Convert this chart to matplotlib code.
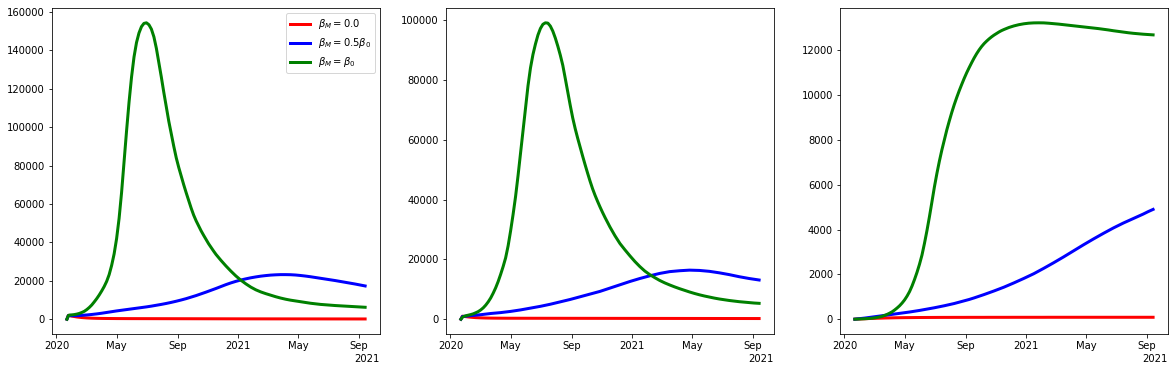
import numpy as np
import matplotlib
matplotlib.use("Agg")
import matplotlib.pyplot as plt
import matplotlib.dates as mdates

start_date = "2020-01-22"
# coarse sampling (days after start) for the slowly varying curves
days_c = [0, 3] + list(range(10, 601, 10))
# fine sampling for the sharply peaked curves
days_f = [0, 3] + list(range(5, 301, 5)) + list(range(310, 601, 10))

labels = [r"$\beta_M = 0.0$", r"$\beta_M = 0.5\beta_0$", r"$\beta_M = \beta_0$"]

# ---------------- Panel 1 ----------------
p1_red = [0, 2000,
          1600, 1150, 850, 650, 520, 440, 390, 360, 340, 320,
          310, 300, 290, 285, 280, 275, 270, 265, 260, 255,
          250, 245, 240, 235, 230, 225, 220, 215, 210, 205,
          200, 195, 190, 185, 180, 175, 172, 170, 167, 165,
          162, 160, 157, 155, 152, 150, 147, 145, 142, 140,
          137, 135, 132, 130, 127, 125, 122, 120, 117, 115]
p1_blue = [0, 1900,
           1800, 1850, 2000, 2200, 2450, 2750, 3100, 3500, 3900, 4300,
           4650, 5000, 5350, 5700, 6050, 6400, 6800, 7250, 7700, 8200,
           8750, 9350, 10000, 10700, 11500, 12300, 13200, 14100, 15050, 16000,
           17000, 18000, 18900, 19700, 20400, 21000, 21550, 22000, 22400, 22700,
           22950, 23100, 23200, 23200, 23150, 23000, 22750, 22450, 22100, 21700,
           21300, 20900, 20500, 20100, 19650, 19200, 18750, 18300, 17800, 17300]
p1_green = [0, 1900,
            2150, 2250, 2400, 2650, 3000, 3500, 4100, 5000, 6100, 7400,
            9000, 10700, 12600, 14700, 17000, 19700, 23200, 28000, 34000, 42000,
            52500, 66000, 82000, 98000, 113000, 126000, 136500, 144000, 149000, 152300,
            154000, 154300, 153300, 151000, 147000, 141000, 133500, 126000, 118000, 110500,
            103000, 96500, 90000, 84000, 79000, 74500, 70000, 65800, 61800, 57800,
            54200, 51200, 48600, 46000, 43700, 41500, 39300, 37400, 35500, 33700,
            30600, 27700, 25000, 22500, 20300, 18400, 16700, 15300, 14200, 13300,
            12500, 11700, 11000, 10400, 9900, 9500, 9100, 8700, 8300, 8000,
            7700, 7500, 7300, 7100, 6950, 6800, 6650, 6500, 6350, 6200]

# ---------------- Panel 2 ----------------
p2_red = [0, 1000,
          850, 650, 520, 440, 390, 360, 340, 330, 320, 315,
          312, 310, 308, 306, 304, 302, 300, 298, 296, 294,
          292, 290, 288, 286, 284, 282, 280, 278, 276, 274,
          272, 270, 268, 266, 264, 262, 260, 258, 256, 254,
          252, 250, 248, 246, 244, 242, 240, 238, 236, 234,
          232, 230, 228, 226, 224, 222, 220, 218, 216, 214]
p2_blue = [0, 900,
           1000, 1200, 1350, 1500, 1700, 1900, 2050, 2200, 2400, 2600,
           2850, 3100, 3400, 3700, 4000, 4300, 4650, 5000, 5400, 5800,
           6200, 6600, 7050, 7500, 7950, 8400, 8850, 9300, 9850, 10400,
           10950, 11500, 12050, 12600, 13100, 13600, 14050, 14500, 14900, 15300,
           15600, 15900, 16050, 16200, 16300, 16400, 16350, 16300, 16150, 16000,
           15750, 15500, 15200, 14900, 14550, 14200, 13900, 13600, 13350, 13100]
p2_green = [0, 600,
            850, 1150, 1350, 1550, 1800, 2150, 2550, 3100, 3800, 4700,
            5800, 7100, 8700, 10500, 12600, 15000, 17600, 20500, 24500, 29500,
            35000, 41000, 48000, 55500, 63000, 70500, 78000, 84000, 88500, 92000,
            95000, 97200, 98600, 99100, 99000, 98000, 96300, 94000, 91300, 88300,
            84900, 80500, 76000, 71500, 67300, 63700, 60500, 57500, 54500, 51600,
            48800, 46100, 43600, 41400, 39400, 37500, 35700, 34000, 32400, 30800,
            27900, 25300, 23200, 21200, 19300, 17600, 16100, 14900, 13900, 12950,
            12150, 11450, 10800, 10200, 9650, 9100, 8600, 8150, 7750, 7400,
            7050, 6750, 6500, 6250, 6050, 5850, 5700, 5550, 5400, 5300]

# ---------------- Panel 3 ----------------
p3_red = [0, 5,
          10, 20, 30, 38, 45, 52, 57, 62, 66, 69,
          71, 73, 75, 76, 77, 78, 79, 80, 80, 81,
          81, 81, 82, 82, 82, 82, 83, 83, 83, 83,
          83, 84, 84, 84, 84, 84, 84, 84, 85, 85,
          85, 85, 85, 85, 85, 85, 85, 85, 85, 85,
          85, 85, 85, 85, 85, 85, 85, 85, 85, 85]
p3_blue = [0, 8,
           25, 50, 80, 110, 140, 170, 200, 230, 260, 290,
           320, 355, 390, 430, 470, 510, 555, 600, 650, 700,
           760, 820, 880, 950, 1025, 1100, 1180, 1260, 1345, 1430,
           1525, 1620, 1720, 1820, 1925, 2030, 2150, 2270, 2395, 2520,
           2650, 2780, 2915, 3050, 3185, 3320, 3450, 3580, 3705, 3830,
           3950, 4070, 4180, 4290, 4390, 4490, 4590, 4690, 4800, 4900]
p3_green = [0, 3,
            5, 10, 15, 20, 27, 35, 45, 60, 78, 100,
            130, 170, 215, 270, 330, 410, 500, 600, 720, 860,
            1030, 1230, 1480, 1770, 2090, 2450, 2860, 3380, 3950, 4570,
            5230, 5900, 6500, 7050, 7550, 8000, 8450, 8850, 9230, 9580,
            9900, 10200, 10480, 10750, 11000, 11230, 11450, 11660, 11850, 12020,
            12170, 12300, 12410, 12510, 12600, 12680, 12750, 12820, 12880, 12930,
            13020, 13090, 13145, 13185, 13212, 13225, 13228, 13225, 13210, 13190,
            13170, 13145, 13120, 13095, 13070, 13045, 13020, 12995, 12970, 12940,
            12910, 12875, 12845, 12815, 12785, 12760, 12740, 12720, 12705, 12690]

panels = [
    (p1_red, p1_blue, p1_green),
    (p2_red, p2_blue, p2_green),
    (p3_red, p3_blue, p3_green),
]
colors = ["red", "blue", "green"]


class ConciseWithOffset(mdates.ConciseDateFormatter):
    """Concise date labels, always showing the year of the last tick as offset."""
    def format_ticks(self, values):
        out = super().format_ticks(values)
        if len(values):
            self.offset_string = mdates.num2date(values[-1]).strftime("%Y")
        return out


plt.rcParams["font.size"] = 10
plt.rcParams["font.family"] = ["DejaVu Sans"]

base = np.datetime64(start_date)
dates_c = base + np.array(days_c).astype("timedelta64[D]")
dates_f = base + np.array(days_f).astype("timedelta64[D]")

fig, axes = plt.subplots(1, 3, figsize=(1175 / 72, 371 / 72), dpi=72)
fig.subplots_adjust(left=52 / 1175, right=1168 / 1175, bottom=1 - 334 / 371,
                    top=1 - 8 / 371, wspace=0.201)

for i, (ax, (r, b, g)) in enumerate(zip(axes, panels)):
    ax.plot(dates_c, r, color=colors[0], lw=3, label=labels[0])
    ax.plot(dates_c, b, color=colors[1], lw=3, label=labels[1])
    ax.plot(dates_f, g, color=colors[2], lw=3, label=labels[2])
    loc = mdates.MonthLocator(bymonth=[1, 5, 9])
    ax.xaxis.set_major_locator(loc)
    ax.xaxis.set_major_formatter(ConciseWithOffset(loc))
    if i == 0:
        ax.legend(loc="upper right")

fig.savefig("out.png", dpi=72)
